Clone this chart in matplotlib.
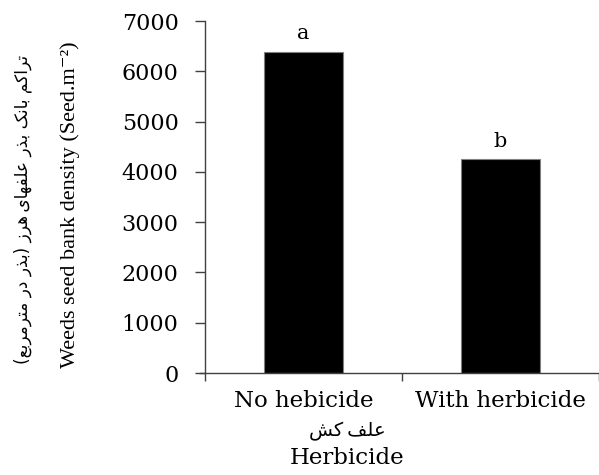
import matplotlib
matplotlib.use("Agg")
import matplotlib.pyplot as plt

treatments = ["No hebicide", "With herbicide"]
seed_density = [6390, 4250]
letters = ["a", "b"]
y_ticks = [0, 1000, 2000, 3000, 4000, 5000, 6000, 7000]

ylabel_fa = "تراکم بانک بذر علفهای\u200cهرز (بذر در مترمربع)"
ylabel_en = "Weeds seed bank density (Seed.m\u207b\u00b2)"
xlabel_fa = "علف\u200cکش"
xlabel_en = "Herbicide"

# isolated, final, initial, medial presentation forms
FORMS = {
    "\u0627": ("\uFE8D", "\uFE8E", None, None),
    "\u062F": ("\uFEA9", "\uFEAA", None, None),
    "\u0630": ("\uFEAB", "\uFEAC", None, None),
    "\u0631": ("\uFEAD", "\uFEAE", None, None),
    "\u0632": ("\uFEAF", "\uFEB0", None, None),
    "\u0628": ("\uFE8F", "\uFE90", "\uFE91", "\uFE92"),
    "\u062A": ("\uFE95", "\uFE96", "\uFE97", "\uFE98"),
    "\u0634": ("\uFEB5", "\uFEB6", "\uFEB7", "\uFEB8"),
    "\u0639": ("\uFEC9", "\uFECA", "\uFECB", "\uFECC"),
    "\u0641": ("\uFED1", "\uFED2", "\uFED3", "\uFED4"),
    "\u0644": ("\uFEDD", "\uFEDE", "\uFEDF", "\uFEE0"),
    "\u0645": ("\uFEE1", "\uFEE2", "\uFEE3", "\uFEE4"),
    "\u0646": ("\uFEE5", "\uFEE6", "\uFEE7", "\uFEE8"),
    "\u0647": ("\uFEE9", "\uFEEA", "\uFEEB", "\uFEEC"),
    "\u06A9": ("\uFB8E", "\uFB8F", "\uFB90", "\uFB91"),
    "\u06CC": ("\uFBFC", "\uFBFD", "\uFBFE", "\uFBFF"),
}


def shape_fa(text):
    # simple joining + reverse, since matplotlib has no RTL layout
    out = []
    for i, ch in enumerate(text):
        if ch not in FORMS:
            if ch == "\u200c":
                out.append("\u2009")
            else:
                out.append(ch)
            continue
        prev = text[i - 1] if i > 0 else ""
        nxt = text[i + 1] if i + 1 < len(text) else ""
        joins_prev = prev in FORMS and FORMS[prev][2] is not None
        joins_next = FORMS[ch][2] is not None and nxt in FORMS
        iso, fin, ini, med = FORMS[ch]
        if joins_prev and joins_next:
            out.append(med)
        elif joins_prev:
            out.append(fin)
        elif joins_next:
            out.append(ini)
        else:
            out.append(iso)
    vis = "".join(reversed(out))
    return vis.translate(str.maketrans("()", ")("))


fig = plt.figure(figsize=(5.99, 4.75), dpi=100)
ax = fig.add_axes([205 / 599, 102 / 475, 394 / 599, 352 / 475])

edge = "#404040"
ax.bar(range(len(treatments)), seed_density, width=0.4, color="black",
       edgecolor="#808080", linewidth=0.8)
for i, (v, lab) in enumerate(zip(seed_density, letters)):
    ax.text(i, v + 170, lab, ha="center", va="bottom",
            family="DejaVu Serif", fontsize=15)

ax.set_xlim(-0.5, 1.5)
ax.set_ylim(0, 7000)
ax.set_yticks(y_ticks)
ax.set_yticklabels([str(t) for t in y_ticks], family="DejaVu Serif", fontsize=16)
ax.set_xticks([-0.5, 0.5, 1.5])
ax.set_xticklabels([])
ax.set_xticks(range(len(treatments)), minor=True)
ax.set_xticklabels(treatments, minor=True, family="DejaVu Serif", fontsize=16.5)
ax.tick_params(axis="x", which="minor", length=0, pad=12)
ax.tick_params(axis="x", which="major", length=5.5, width=1, color=edge)
ax.tick_params(axis="y", length=7, width=1, color=edge, pad=12)

for s in ["top", "right"]:
    ax.spines[s].set_visible(False)
for s in ["left", "bottom"]:
    ax.spines[s].set_color(edge)
    ax.spines[s].set_linewidth(1)
ax.spines["bottom"].set_bounds(-0.525, 1.5)
ax.spines["bottom"].set_clip_on(False)

fig.text(70 / 599, 1 - 205 / 475, ylabel_en, rotation=90, ha="center", va="center",
         family=["Liberation Serif", "DejaVu Serif"], fontsize=16)
fig.text(23 / 599, 1 - 209 / 475, shape_fa(ylabel_fa), rotation=90, ha="center",
         va="center", family="DejaVu Sans", fontsize=12.2)
fig.text(347 / 599, 1 - 431 / 475, shape_fa(xlabel_fa), ha="center", va="center",
         family="DejaVu Sans", fontsize=14)
fig.text(347 / 599, 1 - 458 / 475, xlabel_en, ha="center", va="center",
         family="DejaVu Serif", fontsize=16.5)

fig.savefig("out.png", dpi=100)
